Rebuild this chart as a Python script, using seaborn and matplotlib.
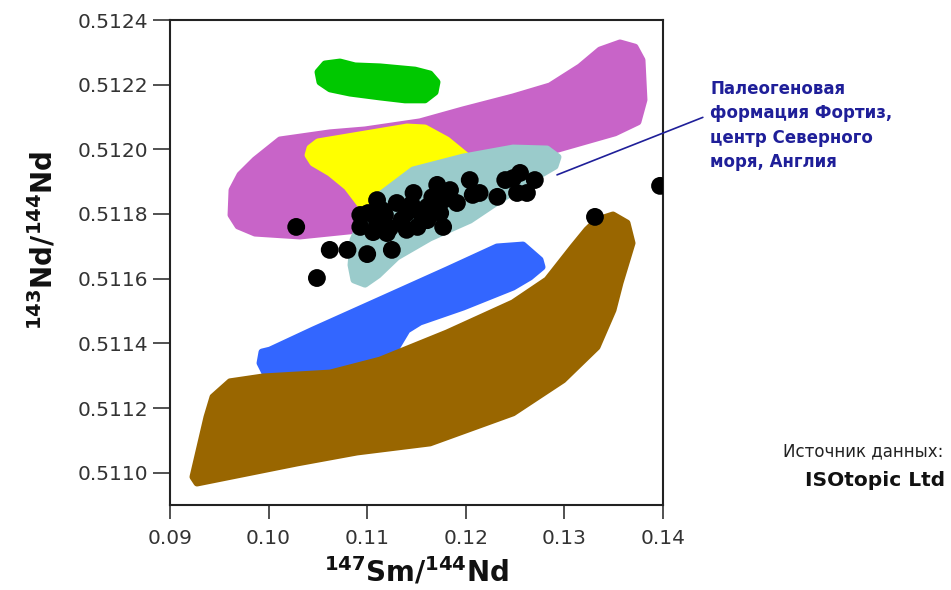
import numpy as np
import pandas as pd
import matplotlib
matplotlib.use("Agg")
import matplotlib.pyplot as plt
import seaborn as sns

# ---------------- data ----------------
# measured samples (147Sm/144Nd, 143Nd/144Nd)
sm_nd = [0.1028, 0.1049, 0.1062, 0.1080, 0.1100, 0.1125, 0.1093, 0.1093, 0.1110,
         0.1106, 0.1123, 0.1130, 0.1147, 0.1140, 0.1151, 0.1161, 0.1171, 0.1174,
         0.1177, 0.1184, 0.1191, 0.1204, 0.1207, 0.1161, 0.1232, 0.1240, 0.1255,
         0.1270, 0.1262, 0.1252, 0.1331, 0.1397, 0.1118, 0.1120, 0.1140, 0.1214,
         0.1248, 0.1101, 0.1177, 0.1115, 0.1135, 0.1155, 0.1166, 0.1110, 0.1145]
nd_nd = [0.511760, 0.511602, 0.511689, 0.511689, 0.511676, 0.511689, 0.511797, 0.511760, 0.511843,
         0.511744, 0.511757, 0.511834, 0.511865, 0.511803, 0.511760, 0.511822, 0.511890, 0.511803,
         0.511760, 0.511874, 0.511834, 0.511905, 0.511859, 0.511781, 0.511853, 0.511905, 0.511927,
         0.511905, 0.511865, 0.511865, 0.511791, 0.511887, 0.511797, 0.511741, 0.511751, 0.511865,
         0.511911, 0.511803, 0.511843, 0.511812, 0.511782, 0.511800, 0.511852, 0.511772, 0.511830]

# reference fields (outlines)
magenta_x = [0.09619, 0.09629, 0.09710, 0.09862, 0.10116, 0.10623, 0.10978, 0.11536, 0.11972,
             0.12479, 0.12854, 0.13158, 0.13361, 0.13564, 0.13716, 0.13787, 0.13807, 0.13746,
             0.13513, 0.13006, 0.12550, 0.11840, 0.11333, 0.10927, 0.10318, 0.09862, 0.09690]
magenta_y = [0.511797, 0.511874, 0.511921, 0.511967, 0.512029, 0.512051, 0.512060, 0.512085, 0.512122,
             0.512162, 0.512196, 0.512255, 0.512307, 0.512329, 0.512316, 0.512276, 0.512153, 0.512085,
             0.512051, 0.512007, 0.511967, 0.511874, 0.511797, 0.511751, 0.511732, 0.511741, 0.511763]

green_x = [0.10501, 0.10572, 0.10724, 0.10876, 0.11130, 0.11485, 0.11637, 0.11708, 0.11688,
           0.11586, 0.11383, 0.11130, 0.10826, 0.10623, 0.10521]
green_y = [0.512239, 0.512264, 0.512270, 0.512258, 0.512255, 0.512245, 0.512233, 0.512208, 0.512177,
           0.512153, 0.512153, 0.512162, 0.512174, 0.512187, 0.512208]

yellow_x = [0.10400, 0.10420, 0.10501, 0.10795, 0.11404, 0.11586, 0.11809, 0.12022, 0.11738,
            0.11130, 0.10957, 0.10795, 0.10623, 0.10450]
yellow_y = [0.511982, 0.512004, 0.512023, 0.512038, 0.512069, 0.512066, 0.512029, 0.511976, 0.511890,
            0.511828, 0.511819, 0.511884, 0.511927, 0.511958]

teal_x = [0.10836, 0.10856, 0.10947, 0.11130, 0.11465, 0.11972, 0.12479, 0.12824, 0.12935,
          0.12905, 0.12753, 0.12347, 0.12043, 0.11637, 0.11302, 0.11110, 0.10978, 0.10866]
teal_y = [0.511642, 0.511720, 0.511781, 0.511859, 0.511936, 0.511976, 0.512004, 0.512001, 0.511976,
          0.511948, 0.511921, 0.511843, 0.511781, 0.511726, 0.511667, 0.511611, 0.511583, 0.511596]

blue_x = [0.09913, 0.09933, 0.10014, 0.10450, 0.11130, 0.11809, 0.12316, 0.12580, 0.12753, 0.12773,
          0.12651, 0.12479, 0.11972, 0.11536, 0.11404, 0.11302, 0.11130, 0.10795, 0.10288, 0.09984]
blue_y = [0.511339, 0.511373, 0.511379, 0.511441, 0.511534, 0.511627, 0.511698, 0.511704, 0.511658,
          0.511636, 0.511605, 0.511574, 0.511512, 0.511466, 0.511441, 0.511389, 0.511348, 0.511308,
          0.511287, 0.511296]

brown_x = [0.09233, 0.09274, 0.09781, 0.10288, 0.10897, 0.11637, 0.12479, 0.12986, 0.13331, 0.13493,
           0.13564, 0.13686, 0.13635, 0.13493, 0.13331, 0.13229, 0.13087, 0.12824, 0.12479, 0.11809,
           0.11130, 0.10623, 0.09943, 0.09609, 0.09436, 0.09375]
brown_y = [0.510987, 0.510968, 0.510999, 0.511030, 0.511064, 0.511092, 0.511185, 0.511287, 0.511389,
           0.511503, 0.511587, 0.511710, 0.511772, 0.511797, 0.511781, 0.511751, 0.511698, 0.511596,
           0.511525, 0.511432, 0.511348, 0.511308, 0.511296, 0.511281, 0.511234, 0.511172]

x_ticks = [0.09, 0.10, 0.11, 0.12, 0.13, 0.14]
y_ticks = [0.5110, 0.5112, 0.5114, 0.5116, 0.5118, 0.5120, 0.5122, 0.5124]

annotation = "Палеогеновая\nформация Фортиз,\nцентр Северного\nморя, Англия"
source_label = "Источник данных:"
source_name = "ISOtopic Ltd"

# ---------------- style ----------------
sns.set_style("ticks")
plt.rcParams["font.family"] = ["DejaVu Sans"]
plt.rcParams["mathtext.fontset"] = "dejavusans"

fig = plt.figure(figsize=(9.51, 5.90), dpi=100)
ax = fig.add_axes([170 / 951, 1 - 505 / 590, 493 / 951, 485 / 590])

fields = [
    (magenta_x, magenta_y, "#c864c8"),
    (green_x, green_y, "#00c800"),
    (yellow_x, yellow_y, "#ffff00"),
    (teal_x, teal_y, "#9acbcb"),
    (blue_x, blue_y, "#3366ff"),
    (brown_x, brown_y, "#996600"),
]
for i, (fx, fy, col) in enumerate(fields):
    ax.fill(fx, fy, facecolor=col, edgecolor=col, linewidth=5, joinstyle="round", zorder=1 + i * 0.1)

df = pd.DataFrame({"sm": sm_nd, "nd": nd_nd})
sns.scatterplot(data=df, x="sm", y="nd", ax=ax, color="black", s=165, edgecolor="none",
                linewidth=0, zorder=5, legend=False)

ax.set_xlim(0.09, 0.14)
ax.set_ylim(0.5109, 0.5124)
ax.set_xticks(x_ticks)
ax.set_xticklabels([f"{v:.2f}" for v in x_ticks])
ax.set_yticks(y_ticks)
ax.set_yticklabels([f"{v:.4f}" for v in y_ticks])
ax.tick_params(axis="both", direction="out", labelsize=14.5, colors="#333333",
               labelcolor="#333333", width=1.2)
ax.tick_params(axis="y", length=12, pad=4)
ax.tick_params(axis="x", length=10, pad=7)
for sp in ax.spines.values():
    sp.set_visible(True)
    sp.set_color("#222222")
    sp.set_linewidth(1.5)

ax.set_xlabel(r"$\mathbf{{}^{147}Sm/{}^{144}Nd}$", fontsize=20, labelpad=6, color="#111111")
ax.set_ylabel(r"$\mathbf{{}^{143}Nd/{}^{144}Nd}$", fontsize=20, color="#111111")
ax.yaxis.set_label_coords(-0.227, 0.546)

ax.annotate(annotation, xy=(0.12925, 0.511921), xycoords="data",
            xytext=(710 / 951, 1 - 80 / 590), textcoords="figure fraction",
            ha="left", va="top", fontsize=12, fontweight="bold", color="#1f1f99",
            linespacing=1.45,
            arrowprops=dict(arrowstyle="-", color="#1f1f99", lw=1.2,
                            relpos=(0, 0.62), shrinkA=3, shrinkB=0))

fig.text(943 / 951, 1 - 456 / 590, source_label, ha="right", va="baseline",
         fontsize=12, color="#222222")
fig.text(945 / 951, 1 - 486 / 590, source_name, ha="right", va="baseline",
         fontsize=14.5, fontweight="bold", color="#111111")

fig.savefig("out.png", dpi=100, facecolor="white")
